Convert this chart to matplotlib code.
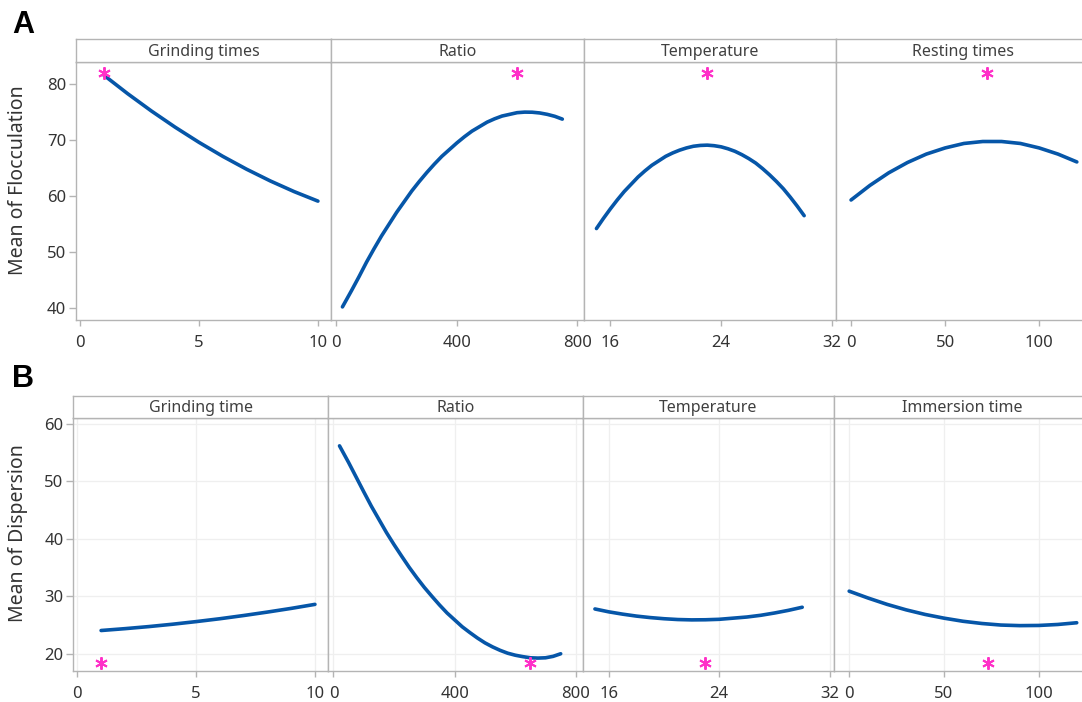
import matplotlib
matplotlib.use("Agg")
import matplotlib.pyplot as plt

plt.rcParams['font.family'] = ['Noto Sans', 'DejaVu Sans']

# ---------------- data ----------------
# Panel A : Mean of Flocculation
a_titles = ["Grinding times", "Ratio", "Temperature", "Resting times"]
a_grind_x = [1, 2, 3, 4, 5, 6, 7, 8, 9, 10]
a_grind_y = [81.6, 78.3, 75.2, 72.3, 69.6, 67.1, 64.8, 62.7, 60.8, 59.1]
a_ratio_x = [20, 50, 75, 100, 125, 150, 175, 200, 225, 250, 275, 300, 325, 350, 375,
             400, 425, 450, 475, 500, 525, 550, 575, 600, 625, 650, 675, 700, 725, 750]
a_ratio_y = [40.2, 43.1, 45.6, 48.2, 50.6, 52.9, 55.0, 57.1, 59.0, 60.9, 62.6, 64.2, 65.7, 67.1, 68.3,
             69.5, 70.6, 71.6, 72.4, 73.2, 73.8, 74.3, 74.6, 74.9, 75.0, 74.98, 74.85, 74.6, 74.25, 73.75]
a_temp_x = [15, 15.5, 16, 16.5, 17, 17.5, 18, 18.5, 19, 19.5, 20, 20.5, 21, 21.5, 22, 22.5,
            23, 23.5, 24, 24.5, 25, 25.5, 26, 26.5, 27, 27.5, 28, 28.5, 29, 29.5, 30]
a_temp_y = [54.2, 56.0, 57.7, 59.3, 60.8, 62.1, 63.4, 64.5, 65.5, 66.3, 67.1, 67.7, 68.2, 68.6, 68.9, 69.05,
            69.1, 69.0, 68.8, 68.45, 68.0, 67.4, 66.7, 65.9, 64.9, 63.8, 62.6, 61.3, 59.8, 58.2, 56.5]
a_rest_x = [0, 10, 20, 30, 40, 50, 60, 70, 80, 90, 100, 110, 120]
a_rest_y = [59.3, 61.9, 64.15, 66.0, 67.5, 68.6, 69.4, 69.75, 69.75, 69.4, 68.6, 67.5, 66.1]
a_star_x = [1, 600, 23, 72]
a_star_y = 82.0

# Panel B : Mean of Dispersion
b_titles = ["Grinding time", "Ratio", "Temperature", "Immersion time"]
b_grind_x = [1, 2, 3, 4, 5, 6, 7, 8, 9, 10]
b_grind_y = [24.05, 24.37, 24.73, 25.14, 25.6, 26.1, 26.66, 27.26, 27.9, 28.6]
b_ratio_x = [20, 50, 75, 100, 125, 150, 175, 200, 225, 250, 275, 300, 325, 350, 375,
             400, 425, 450, 475, 500, 525, 550, 575, 600, 625, 650, 675, 700, 725, 750]
b_ratio_y = [56.2, 53.3, 50.75, 48.2, 45.7, 43.4, 41.1, 39.0, 37.0, 35.05, 33.25, 31.55, 30.0, 28.5, 27.1,
             25.9, 24.7, 23.7, 22.75, 21.9, 21.2, 20.6, 20.1, 19.75, 19.5, 19.3, 19.25, 19.3, 19.55, 20.0]
b_temp_x = [15, 16, 17, 18, 19, 20, 21, 22, 23, 24, 25, 26, 27, 28, 29, 30]
b_temp_y = [27.8, 27.3, 26.9, 26.56, 26.3, 26.1, 25.96, 25.9, 25.92, 26.0, 26.2, 26.4, 26.7, 27.1, 27.56, 28.1]
b_imm_x = [0, 10, 20, 30, 40, 50, 60, 70, 80, 90, 100, 110, 120]
b_imm_y = [30.9, 29.7, 28.6, 27.65, 26.85, 26.2, 25.66, 25.27, 25.0, 24.9, 24.93, 25.1, 25.4]
b_star_x = [1, 650, 23, 73]
b_star_y = 18.4

x_ticks = [[0, 5, 10], [0, 400, 800], [16, 24, 32], [0, 50, 100]]
a_yticks = [40, 50, 60, 70, 80]
b_yticks = [20, 30, 40, 50, 60]

# ---------------- styling / layout ----------------
W, H = 1082, 702
LINE_C = "#0656a8"
STAR_C = "#ff2fc8"
FRAME_C = "#b4b4b4"
TEXT_C = "#333333"
xlims = [(-0.17, 10.55), (-18, 822), (14.1, 32.3), (-8, 127)]

fig = plt.figure(figsize=(W / 100, H / 100), dpi=100)


def rect(x0, x1, ytop, ybot):
    return [x0 / W, 1 - ybot / H, (x1 - x0) / W, (ybot - ytop) / H]


def build_row(edges, strip_top, strip_bot, plot_bot, titles, xs, ys, star_x, star_y,
              ylim, yticks, ylabel, grid):
    for i in range(4):
        ax = fig.add_axes(rect(edges[i], edges[i + 1], strip_bot, plot_bot))
        ax.plot(xs[i], ys[i], color=LINE_C, lw=2.6, solid_capstyle='round',
                solid_joinstyle='round', zorder=3)
        ax.plot([star_x[i]], [star_y], linestyle='none', marker=(6, 2, 0),
                markersize=9, markeredgewidth=1.4, color=STAR_C, zorder=4)
        ax.set_xlim(*xlims[i])
        ax.set_ylim(*ylim)
        ax.set_xticks(x_ticks[i])
        ax.set_yticks(yticks)
        for s in ax.spines.values():
            s.set_color(FRAME_C)
            s.set_linewidth(1.0)
        ax.tick_params(axis='x', colors=FRAME_C, labelcolor=TEXT_C, length=4,
                       width=1.0, pad=7, labelsize=12)
        if i == 0:
            ax.tick_params(axis='y', colors=FRAME_C, labelcolor=TEXT_C, length=5,
                           width=1.0, pad=2, labelsize=12)
        else:
            ax.tick_params(axis='y', left=False, labelleft=False)
        if grid:
            ax.grid(True, color="#efefef", lw=0.9, zorder=0)
            ax.set_axisbelow(True)
        # strip header
        sax = fig.add_axes(rect(edges[i], edges[i + 1], strip_top, strip_bot))
        sax.set_xticks([])
        sax.set_yticks([])
        for s in sax.spines.values():
            s.set_color(FRAME_C)
            s.set_linewidth(1.0)
        sax.text(0.5, 0.45, titles[i], ha='center', va='center', fontsize=11.5,
                 color="#404040", transform=sax.transAxes)
    fig.text(18 / W, 1 - (strip_top + plot_bot) / 2 / H, ylabel, rotation=90,
             ha='center', va='center', fontsize=14, color=TEXT_C)


build_row([76, 331, 584, 836, 1090], 39.3, 62.3, 320, a_titles,
          [a_grind_x, a_ratio_x, a_temp_x, a_rest_x],
          [a_grind_y, a_ratio_y, a_temp_y, a_rest_y],
          a_star_x, a_star_y, (37.86, 83.9), a_yticks, "Mean of Flocculation", False)

build_row([73.3, 328, 582.5, 834, 1090], 395.7, 417.7, 671, b_titles,
          [b_grind_x, b_ratio_x, b_temp_x, b_imm_x],
          [b_grind_y, b_ratio_y, b_temp_y, b_imm_y],
          b_star_x, b_star_y, (17.0, 61.1), b_yticks, "Mean of Dispersion", True)

fig.text(23 / W, 1 - 25 / H, "A", ha='center', va='center', fontsize=22,
         fontweight='bold', family='Liberation Sans', color='black')
fig.text(23 / W, 1 - 379 / H, "B", ha='center', va='center', fontsize=22,
         fontweight='bold', family='Liberation Sans', color='black')

fig.savefig("out.png", dpi=100)
